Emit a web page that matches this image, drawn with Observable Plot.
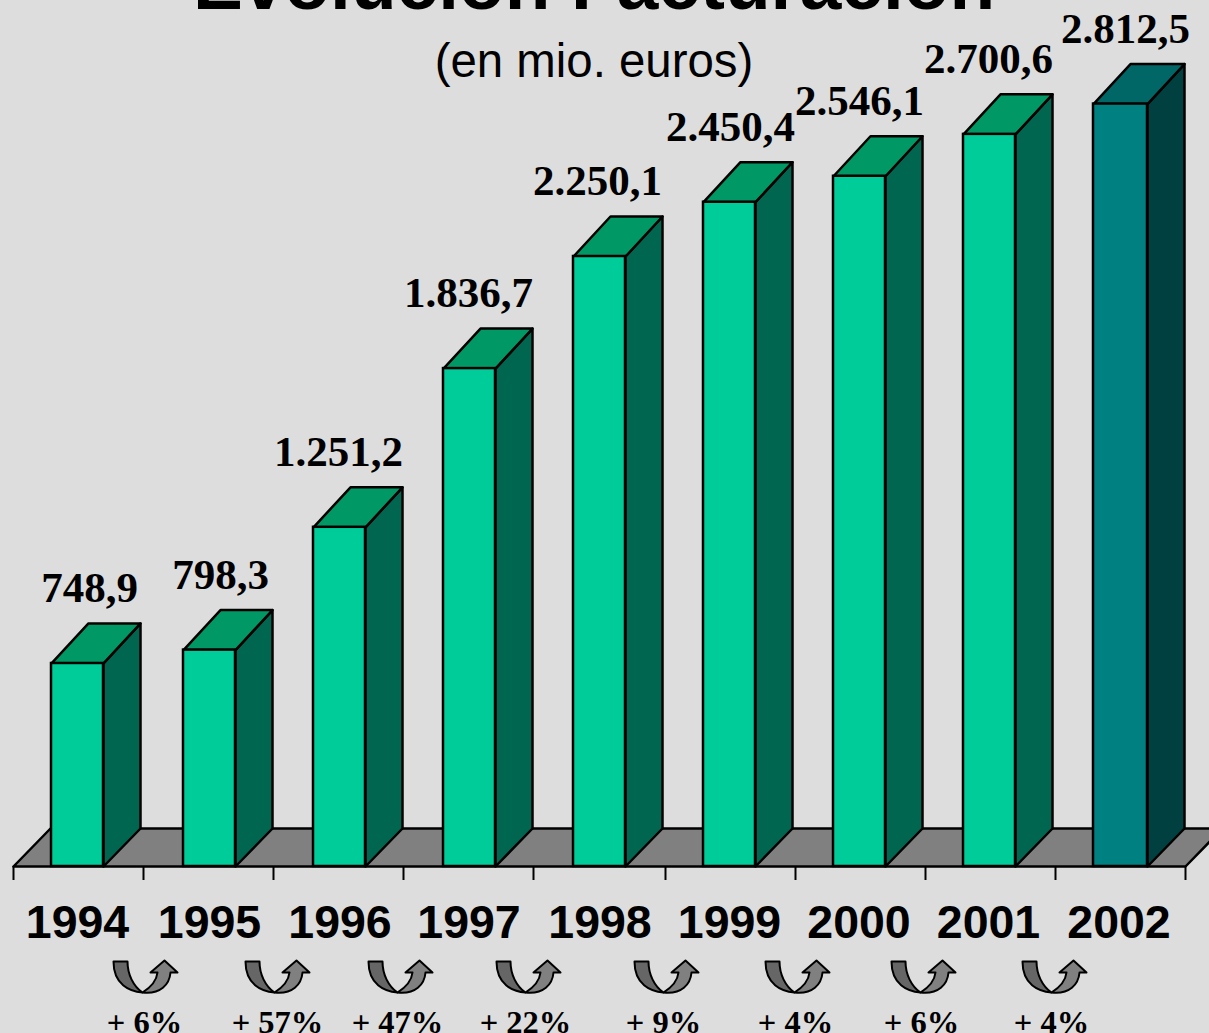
<!DOCTYPE html>
<html><head><meta charset="utf-8">
<style>html,body{margin:0;padding:0;background:#ddd;overflow:hidden}svg{display:block}</style>
<script src="https://cdn.jsdelivr.net/npm/d3@7"></script>
<script src="https://cdn.jsdelivr.net/npm/@observablehq/plot@0.6"></script>
</head><body><div id="chart"></div>
<script>
const years = [1994,1995,1996,1997,1998,1999,2000,2001,2002];
const revenue = [748.9,798.3,1251.2,1836.7,2250.1,2450.4,2546.1,2700.6,2812.5];
const revenueLabels = ["748,9","798,3","1.251,2","1.836,7","2.250,1","2.450,4","2.546,1","2.700,6","2.812,5"];
const growthLabels = ["+ 6%","+ 57%","+ 47%","+ 22%","+ 9%","+ 4%","+ 6%","+ 4%"];

// layout (hand placement in the original slide)
const W = 1209, H = 1033, pxPerYear = 130, pxPerUnit = 0.2711, baseline = 866, origin = 53;
const px = p => p / pxPerYear, units = p => p / pxPerUnit;
const barW = px(52), depthX = px(37), depthY = units(40), floorY = units(38);
const barNudge = [-2,0,0,0,0,0,0,0,0];
const barExtra = [0,0,0,0,0,0,0,0,2];
const tickNudge = [-40,-40,-40,-40,-40,-38,-38,-38,-38,-38];
const labelNudge = [-8.5,-7.5,-19.5,-19.5,-20.5,-17.5,-18.5,-19.5,-12.5];
const yearNudge = [0,2,2.5,1.5,2.5,2,1.5,1,1.5];
const growthCenter = [-39,-36,-46,-48,-40,-38,-42,-42];
const arrowNudge = [1,0,3,3,3,2,2,3];
const frontCol = i => i === 8 ? "#008080" : "#00CC99";
const topCol = i => i === 8 ? "#006666" : "#009966";
const sideCol = i => i === 8 ? "#004040" : "#006650";

const bars = years.map((year,i)=>{
  const x1 = year + px(barNudge[i]), x2 = x1 + barW + px(barExtra[i]);
  return {year,value:revenue[i],label:revenueLabels[i],i,x1,x2};
});
const poly = (pts,i) => [...pts,pts[0]].map(([x,y])=>({x,y,i}));
const sides = bars.flatMap(d=>poly([[d.x2,0],[d.x2+depthX,floorY],[d.x2+depthX,d.value+depthY],[d.x2,d.value]],d.i));
const tops = bars.flatMap(d=>poly([[d.x1,d.value],[d.x2,d.value],[d.x2+depthX,d.value+depthY],[d.x1+depthX,d.value+depthY]],d.i));
const tickYears = [...years,2003].map((y,i)=>y+px(tickNudge[i]));
const floor = poly([[tickYears[0],0],[tickYears[0]+depthX,floorY],[tickYears[9]+depthX,floorY],[tickYears[9],0]],0);
const gaps = growthLabels.map((label,i)=>({label,x:years[i+1]+px(growthCenter[i]),ax:years[i+1]+px(growthCenter[i]+arrowNudge[i])}));

const leftArm = {draw(c){
  const a=-32;
  c.moveTo(a,1);c.lineTo(a+14,1);
  c.bezierCurveTo(a+14,14,a+20,26,a+29,32);
  c.bezierCurveTo(a+16,31,a,24,a,1);c.closePath();
}};
const rightArm = {draw(c){
  const a=-32;
  c.moveTo(a+29,32);
  c.bezierCurveTo(a+37,27,a+43,21,a+44,12);
  c.lineTo(a+37,12);c.lineTo(a+51,0);c.lineTo(a+64,12);c.lineTo(a+57,12);
  c.bezierCurveTo(a+56,24,a+47,34,a+29,32);c.closePath();
}};

const plot = Plot.plot({
  width:W,height:H,margin:0,
  style:{background:"#DDDDDD",overflow:"hidden"},
  x:{type:"linear",domain:[1994-origin/pxPerYear,1994+(W-origin)/pxPerYear],range:[0,W],axis:null},
  y:{type:"linear",domain:[0,baseline/pxPerUnit],range:[baseline,0],axis:null},
  marks:[
    Plot.line(floor,{x:"x",y:"y",fill:"#808080",stroke:"#000",strokeWidth:2.5,strokeLinejoin:"miter"}),
    Plot.ruleX(tickYears,{x:d=>d,y1:0,y2:units(-14),stroke:"#000",strokeWidth:2}),
    Plot.line(sides,{x:"x",y:"y",z:"i",fill:d=>sideCol(d.i),stroke:"#000",strokeWidth:2.5}),
    Plot.line(tops,{x:"x",y:"y",z:"i",fill:d=>topCol(d.i),stroke:"#000",strokeWidth:2.5}),
    Plot.rect(bars,{x1:"x1",x2:"x2",y1:0,y2:"value",fill:d=>frontCol(d.i),stroke:"#000",strokeWidth:2.5}),
    Plot.text(bars,{x:d=>d.year+px(44.5+labelNudge[d.i]),y:d=>d.value+depthY,text:"label",dy:-35,
      fontFamily:"Liberation Serif",fontWeight:"bold",fontSize:43,fill:"#000"}),
    Plot.text(years,{x:(d,i)=>d+px(24+yearNudge[i]),text:String,frameAnchor:"top",dy:904,fontFamily:"Liberation Sans",fontWeight:"bold",fontSize:46.5,fill:"#000"}),
    Plot.vector(gaps,{x:"ax",frameAnchor:"top",dy:960,length:1,anchor:"start",shape:leftArm,fill:"#666",stroke:"#000",strokeWidth:2}),
    Plot.vector(gaps,{x:"ax",frameAnchor:"top",dy:960,length:1,anchor:"start",shape:rightArm,fill:"#808080",stroke:"#000",strokeWidth:2}),
    Plot.text(gaps,{x:"x",text:"label",frameAnchor:"top",dy:1009,fontFamily:"Liberation Serif",fontWeight:"bold",fontSize:32.5,fill:"#000"}),
    Plot.text(["Evolución Facturación"],{frameAnchor:"top",dx:-11,dy:-45,fontFamily:"Liberation Sans",fontWeight:"bold",fontSize:74.8,fill:"#000"}),
    Plot.text(["(en mio. euros)"],{frameAnchor:"top",dx:-11,dy:43,fontFamily:"Liberation Sans",fontSize:47.4,fill:"#000"})
  ]
});
document.getElementById("chart").appendChild(plot);
</script></body></html>
